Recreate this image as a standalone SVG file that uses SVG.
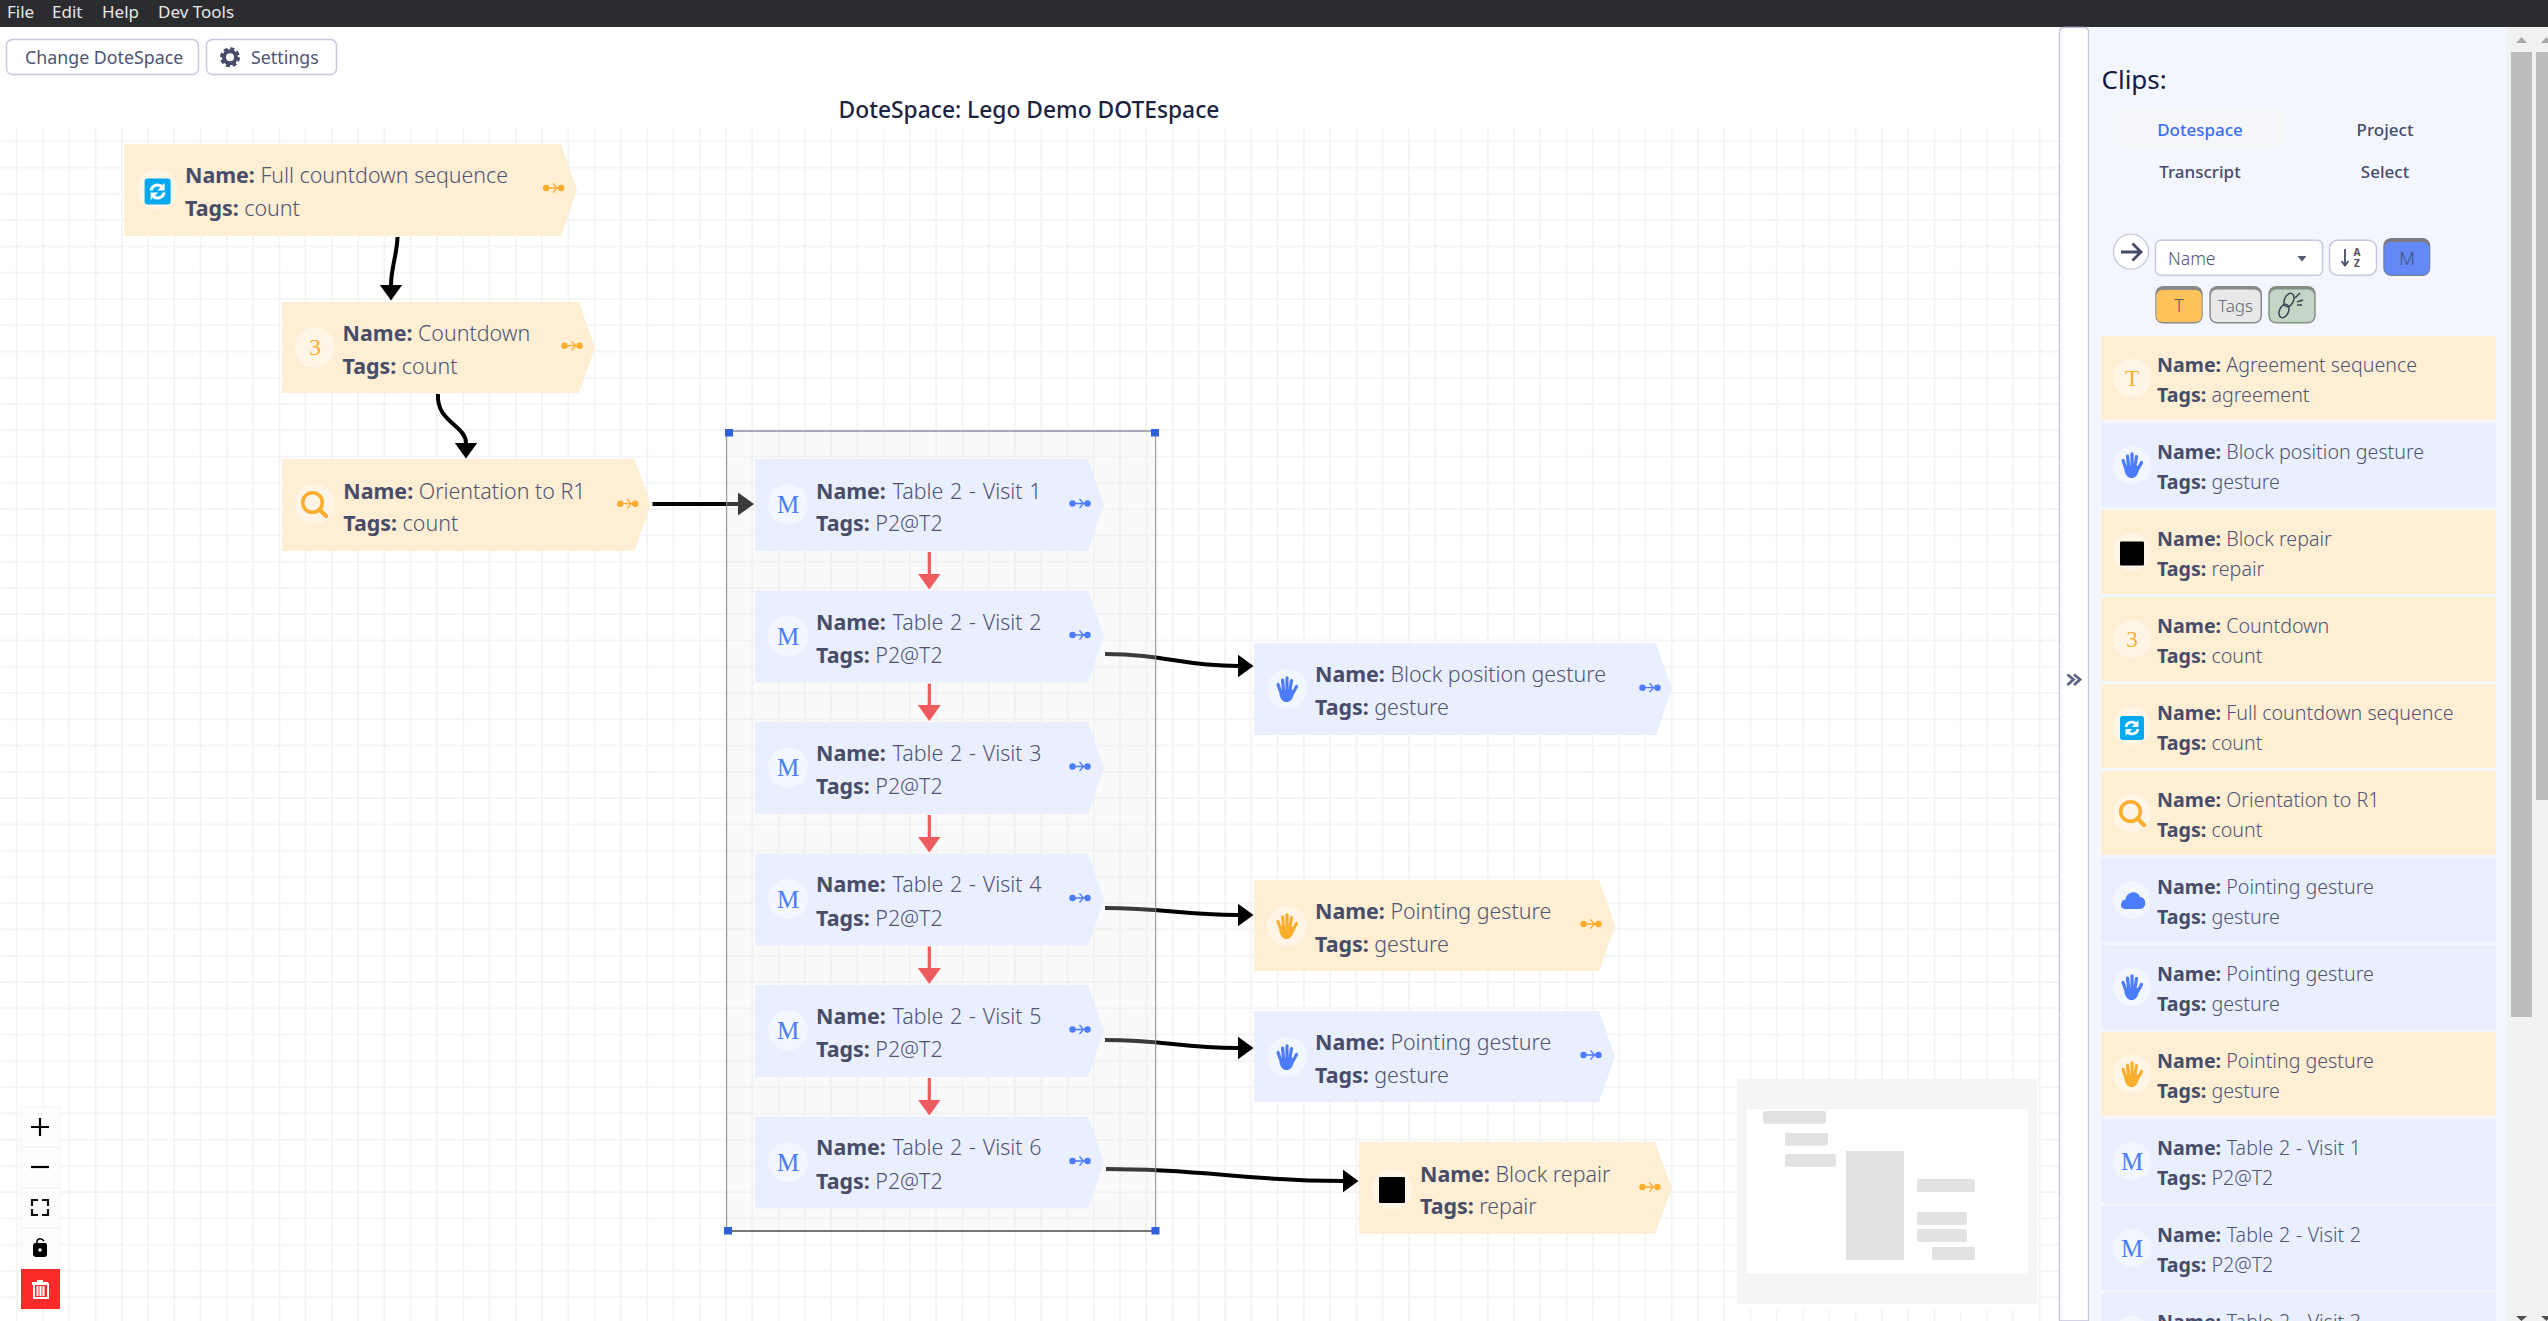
<svg xmlns="http://www.w3.org/2000/svg" width="2548" height="1321" viewBox="0 0 2548 1321">
<style>
text{font-family:"Noto Sans","Open Sans","Liberation Sans",sans-serif}
.l{font-size:21.4px;fill:#4f5472;font-weight:300}
.s{font-size:19.65px;fill:#4f5472;font-weight:300}
.t{word-spacing:1.2px}
.u{word-spacing:.5px}
.b{font-weight:700;fill:#474c68;word-spacing:0}
.or{fill:#feeed4}
.bl{fill:#e9effe}
.c{fill:#fff;opacity:.42}
.m{font-family:"Liberation Serif",serif;fill:#4a7cfb;font-size:25px;text-anchor:middle}
.o{font-family:"Liberation Serif",serif;fill:#fbad2e;font-size:24px;text-anchor:middle}
.menu{font-size:17px;fill:#e6e6e6}
.btn{fill:#fff;stroke:#c8c8de;stroke-width:1.5}
.btxt{font-size:18px;fill:#4f5472}
.tab{font-size:17px;font-weight:500;fill:#474c68;text-anchor:middle}
.conn{fill:none;stroke:#000;stroke-width:4}
.red{fill:none;stroke:#f02c30;stroke-width:3.2}
.mm{fill:#e2e2e2}
.ctl{fill:#fdfdfd}
</style>
<defs>
<pattern id="grid" patternUnits="userSpaceOnUse" x="15.7" y="140.3" width="26.27" height="26.27">
<path d="M1 0V26.27M0 1H26.27" fill="none" stroke="#f3f3f3" stroke-width="1.7"/>
</pattern>
<marker id="ah" markerUnits="userSpaceOnUse" viewBox="0 0 16 24" markerWidth="16" markerHeight="24" refX="0.5" refY="12" orient="auto"><path d="M0 .5L16 12L0 23.5Z" fill="#000"/></marker>
<marker id="rh" markerUnits="userSpaceOnUse" viewBox="0 0 16 24" markerWidth="16" markerHeight="24" refX="0.5" refY="12" orient="auto"><path d="M0 .5L16 12L0 23.5Z" fill="#f02c30"/></marker>
<g id="flow"><circle cx="-7.5" cy="0" r="3.2" fill="currentColor"/><circle cx="7.5" cy="0" r="3.2" fill="currentColor"/><path d="M-7 0H7M-.5-4.5L3.5 0L-.5 4.5" fill="none" stroke="currentColor" stroke-width="1.3"/></g>
<g id="hand"><path d="M-7.5 1L7 1L6.5 6C5.5 10.5 3 13 -.5 13C-4 13 -6 10.500 -7.500 6Z" fill="currentColor"/><path d="M-9 -4.500L-6.500 2.500M-4.500 -9L-3.500 1M0 -11.200V1M4.500 -8.500L3 1M9.500 -2.500L6 4" fill="none" stroke="currentColor" stroke-width="3.200" stroke-linecap="round"/></g>
<g id="sync"><rect x="-13" y="-13" width="26" height="26" rx="3" fill="#03a9ee"/><path d="M-6.500 -1A6.500 6.500 0 0 1 5 -4M6.500 1A6.500 6.500 0 0 1 -5 4" fill="none" stroke="#fff" stroke-width="3"/><path d="M7 -8.500V-1H-.5ZM-7 8.500V1H.5Z" fill="#fff"/></g>
<g id="search"><circle cx="-1.500" cy="-1.500" r="9.800" fill="none" stroke="#fbad2e" stroke-width="3.600"/><path d="M5.500 5.500L12 12" stroke="#fbad2e" stroke-width="4.200" stroke-linecap="round"/></g>
</defs>
<rect width="2548" height="1321" fill="#fff"/>
<rect x="0" y="129" width="2059" height="1192" fill="url(#grid)"/>
<rect x="0" y="0" width="2548" height="27" fill="#2b2c30"/>
<text class="menu" x="7" y="17.500">File</text>
<text class="menu" x="52" y="17.500">Edit</text>
<text class="menu" x="102" y="17.500">Help</text>
<text class="menu" x="158" y="17.500">Dev Tools</text>
<g id="btn-change"><rect class="btn" x="6.500" y="39.500" width="192" height="35" rx="6"/><text class="btxt" x="25" y="63.500" style="font-size:17.800px">Change DoteSpace</text></g>
<g id="btn-settings"><rect class="btn" x="206.500" y="39.500" width="130" height="35" rx="6"/>
<circle cx="230" cy="57.300" r="6" fill="none" stroke="#474c68" stroke-width="4"/><circle cx="230" cy="57.300" r="8.500" fill="none" stroke="#474c68" stroke-width="3" stroke-dasharray="4 2.680"/>
<text class="btxt" x="251" y="63.500" style="font-size:17.800px">Settings</text></g>
<text id="title" x="1029" y="118" font-size="22.800" font-weight="500" fill="#1c2340" text-anchor="middle">DoteSpace: Lego Demo DOTEspace</text>

<g id="connectors">
<path class="conn" marker-end="url(#ah)" d="M397.500 237C397 255 391 268 391 285"/>
<path class="conn" marker-end="url(#ah)" d="M438 394C436 422 466 425 466 443"/>
<path class="conn" marker-end="url(#ah)" d="M652.500 504H738.500"/>
<path class="conn" marker-end="url(#ah)" d="M1105 654C1165 654 1180 666 1238 666"/>
<path class="conn" marker-end="url(#ah)" d="M1105 908C1165 908 1180 915 1238 915"/>
<path class="conn" marker-end="url(#ah)" d="M1105 1040C1165 1040 1180 1048 1238 1048"/>
<path class="conn" marker-end="url(#ah)" d="M1106 1169C1210 1169 1240 1181 1343 1181"/>
<path class="red" marker-end="url(#rh)" d="M929.300 552V574"/>
<path class="red" marker-end="url(#rh)" d="M929.300 683.600V705.600"/>
<path class="red" marker-end="url(#rh)" d="M929.300 815V837"/>
<path class="red" marker-end="url(#rh)" d="M929.300 946.500V968.500"/>
<path class="red" marker-end="url(#rh)" d="M929.300 1078V1100"/>
</g>

<g id="selection">
<rect x="726.700" y="431" width="429" height="800" fill="#ebebeb" fill-opacity=".247"/>
<path d="M726.700 431V1231M1155.700 431V1231" stroke="#8a8a8a" stroke-width="1"/>
<path d="M729 431H1155" stroke="#a8a9b8" stroke-width="1.800"/>
<path d="M729 1231H1155" stroke="#757575" stroke-width="1.800"/>
<g fill="#2e62d9"><rect x="725" y="429" width="8" height="7.500"/><rect x="1151" y="429" width="8" height="7.500"/><rect x="724" y="1227" width="8" height="7.500"/><rect x="1151.500" y="1227" width="8" height="7.500"/></g>
</g>

<g id="node-full"><path class="or" d="M124 144H561L577 190L561 236H124Z"/><circle class="c" cx="157.600" cy="189.500" r="20"/><use href="#sync" x="157.600" y="191.500"/><text class="l" x="185" y="183"><tspan class="b">Name:</tspan> Full countdown sequence</text><text class="l" x="185" y="215.500"><tspan class="b">Tags:</tspan> count</text><use href="#flow" x="553.600" y="188" color="#fbad2e"/></g>
<g id="node-countdown"><path class="or" d="M282 302H579L595 348L579 393H282Z"/><circle class="c" cx="315" cy="347.500" r="20"/><text class="o" x="315" y="355">3</text><text class="l" x="342.600" y="341"><tspan class="b">Name:</tspan> Countdown</text><text class="l" x="342.600" y="373.500"><tspan class="b">Tags:</tspan> count</text><use href="#flow" x="572" y="345.700" color="#fbad2e"/></g>
<g id="node-orient"><path class="or" d="M282 459H634.700L650.700 505L634.700 551H282Z"/><circle class="c" cx="315" cy="504" r="20"/><use href="#search" x="314" y="504"/><text class="l" x="343.300" y="498.500"><tspan class="b">Name:</tspan> Orientation to R1</text><text class="l" x="343.300" y="531"><tspan class="b">Tags:</tspan> count</text><use href="#flow" x="627.700" y="503.700" color="#fbad2e"/></g>

<g id="node-v1"><path class="bl" d="M755 459H1088L1104 505L1088 551H755Z"/><circle class="c" cx="788" cy="504.500" r="20"/><text class="m" x="788" y="513">M</text><text class="l t" x="816" y="498.500"><tspan class="b">Name:</tspan> Table 2 - Visit 1</text><text class="l" x="816" y="531"><tspan class="b">Tags:</tspan> P2@T2</text><use href="#flow" x="1080" y="503.500" color="#4c7bfb"/></g>
<g id="node-v2"><path class="bl" d="M755 590.600H1088L1104 636.600L1088 682.600H755Z"/><circle class="c" cx="788" cy="636" r="20"/><text class="m" x="788" y="644.600">M</text><text class="l t" x="816" y="630"><tspan class="b">Name:</tspan> Table 2 - Visit 2</text><text class="l" x="816" y="662.600"><tspan class="b">Tags:</tspan> P2@T2</text><use href="#flow" x="1080" y="635" color="#4c7bfb"/></g>
<g id="node-v3"><path class="bl" d="M755 722H1088L1104 768L1088 814H755Z"/><circle class="c" cx="788" cy="767.500" r="20"/><text class="m" x="788" y="776">M</text><text class="l t" x="816" y="760.500"><tspan class="b">Name:</tspan> Table 2 - Visit 3</text><text class="l" x="816" y="794"><tspan class="b">Tags:</tspan> P2@T2</text><use href="#flow" x="1080" y="766.500" color="#4c7bfb"/></g>
<g id="node-v4"><path class="bl" d="M755 853.500H1088L1104 899.500L1088 945.500H755Z"/><circle class="c" cx="788" cy="899" r="20"/><text class="m" x="788" y="907.500">M</text><text class="l t" x="816" y="892"><tspan class="b">Name:</tspan> Table 2 - Visit 4</text><text class="l" x="816" y="925.500"><tspan class="b">Tags:</tspan> P2@T2</text><use href="#flow" x="1080" y="898" color="#4c7bfb"/></g>
<g id="node-v5"><path class="bl" d="M755 985H1088L1104 1031L1088 1077H755Z"/><circle class="c" cx="788" cy="1030.500" r="20"/><text class="m" x="788" y="1039">M</text><text class="l t" x="816" y="1023.500"><tspan class="b">Name:</tspan> Table 2 - Visit 5</text><text class="l" x="816" y="1057"><tspan class="b">Tags:</tspan> P2@T2</text><use href="#flow" x="1080" y="1029.500" color="#4c7bfb"/></g>
<g id="node-v6"><path class="bl" d="M755 1116.500H1088L1104 1162.500L1088 1208.500H755Z"/><circle class="c" cx="788" cy="1162" r="20"/><text class="m" x="788" y="1170.500">M</text><text class="l t" x="816" y="1155"><tspan class="b">Name:</tspan> Table 2 - Visit 6</text><text class="l" x="816" y="1188.500"><tspan class="b">Tags:</tspan> P2@T2</text><use href="#flow" x="1080" y="1161" color="#4c7bfb"/></g>

<g id="node-block-pos"><path class="bl" d="M1254 643H1656L1672 689L1656 735H1254Z"/><circle class="c" cx="1287" cy="689" r="20"/><use href="#hand" x="1287" y="689" color="#4a7cfb"/><text class="l" x="1315" y="681.500"><tspan class="b">Name:</tspan> Block position gesture</text><text class="l" x="1315" y="715"><tspan class="b">Tags:</tspan> gesture</text><use href="#flow" x="1650" y="687.700" color="#4c7bfb"/></g>
<g id="node-point-1"><path class="or" d="M1254 880H1599L1615 926L1599 971H1254Z"/><circle class="c" cx="1287" cy="926" r="20"/><use href="#hand" x="1287" y="926" color="#fbad2e"/><text class="l" x="1315" y="918.500"><tspan class="b">Name:</tspan> Pointing gesture</text><text class="l" x="1315" y="952"><tspan class="b">Tags:</tspan> gesture</text><use href="#flow" x="1591" y="924" color="#fbad2e"/></g>
<g id="node-point-2"><path class="bl" d="M1254 1011H1599L1615 1057L1599 1102H1254Z"/><circle class="c" cx="1287" cy="1057" r="20"/><use href="#hand" x="1287" y="1057" color="#4a7cfb"/><text class="l" x="1315" y="1049.500"><tspan class="b">Name:</tspan> Pointing gesture</text><text class="l" x="1315" y="1083"><tspan class="b">Tags:</tspan> gesture</text><use href="#flow" x="1591" y="1055" color="#4c7bfb"/></g>
<g id="node-repair"><path class="or" d="M1359 1142H1655L1672 1188L1655 1234H1359Z"/><circle class="c" cx="1392" cy="1189.500" r="20"/><rect x="1379" y="1177" width="26" height="26" fill="#000" rx="1"/><text class="l" x="1420" y="1181.500"><tspan class="b">Name:</tspan> Block repair</text><text class="l" x="1420" y="1214"><tspan class="b">Tags:</tspan> repair</text><use href="#flow" x="1650" y="1187" color="#fbad2e"/></g>

<g id="controls">
<rect class="ctl" x="21" y="1107" width="39" height="162" stroke="#f3f3f3" stroke-width="1"/>
<path d="M21 1147.300H60M21 1187.700H60M21 1228.300H60" stroke="#eeeeee" stroke-width="1"/>
<path d="M31 1127H49M40 1118V1136" stroke="#000" stroke-width="2.200"/>
<path d="M31 1167H49" stroke="#000" stroke-width="2.200"/>
<path d="M38 1200H32V1206M42 1200H48V1206M38 1215H32V1209M42 1215H48V1209" fill="none" stroke="#111" stroke-width="2.200"/>
<path d="M34.500 1243H46L47 1245V1255L45.500 1257H35L33 1255V1245Z" fill="#000"/><path d="M37 1243V1241C38 1238 42 1238 44 1241" fill="none" stroke="#000" stroke-width="1.500"/><circle cx="40" cy="1250" r="1.800" fill="#fff"/>
<rect x="21" y="1269" width="39" height="40" fill="#f92a2a"/>
<path d="M32 1284H48V1298H34V1284" fill="none" stroke="#fff" stroke-width="2"/><path d="M32 1283H48M37 1281H43M37.500 1286V1296M40.500 1286V1296M43.500 1286V1296" stroke="#fff" stroke-width="2" fill="none"/>
</g>

<g id="minimap">
<rect x="1737" y="1304" width="300" height="6" fill="#fff"/>
<rect x="1737" y="1079" width="300" height="225" fill="#f5f5f5"/>
<rect x="1746.300" y="1109.300" width="281.700" height="164" fill="#fff"/>
<rect class="mm" x="1763" y="1111" width="63" height="12.700" rx="2"/>
<rect class="mm" x="1785" y="1133" width="43" height="12.700" rx="2"/>
<rect class="mm" x="1785" y="1154" width="51" height="12.700" rx="2"/>
<rect class="mm" x="1846" y="1151" width="58" height="109"/>
<rect class="mm" x="1917" y="1179" width="58" height="13" rx="2"/>
<rect class="mm" x="1917" y="1212" width="50" height="13" rx="2"/>
<rect class="mm" x="1917" y="1229" width="50" height="13" rx="2"/>
<rect class="mm" x="1932" y="1247" width="43" height="13" rx="2"/>
</g>

<g id="panel">
<path d="M2059.500 1321V32Q2059.500 27.500 2064 27.500H2084Q2088.500 27.500 2088.500 32V1321Z" fill="#fff" stroke="#c4c4da" stroke-width="1.300"/>
<rect x="2089" y="27" width="419" height="1294" fill="#f3f6ff"/>
<path d="M2508 27V1321" stroke="#e6e9f5" stroke-width="1"/>
<rect x="2508.500" y="27" width="39.500" height="1294" fill="#f1f1f1"/>
<rect x="2511" y="52" width="21" height="965" fill="#bcbcbc"/>
<rect x="2536" y="52" width="12" height="748" fill="#bcbcbc"/>
<path d="M2516 43L2521.500 37L2527 43ZM2541 43L2546.500 37L2548 39V43Z" fill="#a8a8a8"/>
<path d="M2516 1316L2521.500 1321L2527 1316ZM2541 1316L2546.500 1321L2548 1319V1316Z" fill="#505050"/>
<path d="M2068 675L2074 680L2068 685.500M2074.500 675L2080.500 680L2074.500 685.500" fill="none" stroke="#5d6284" stroke-width="2.800" transform="translate(-.5 -.5)"/>
<text x="2101.500" y="89" font-size="26" fill="#121a3f">Clips:</text>
<rect x="2113" y="108" width="172" height="41" rx="5" fill="#f5f6fa"/>
<text class="tab" x="2200" y="135.500" style="fill:#3b6dfb">Dotespace</text>
<text class="tab" x="2385" y="135.500">Project</text>
<text class="tab" x="2200" y="177.500">Transcript</text>
<text class="tab" x="2385" y="177.500">Select</text>
<circle cx="2131" cy="251.700" r="17.500" fill="#fff" stroke="#c8c8de" stroke-width="1.300"/>
<path d="M2121 252H2140M2132.500 243.500L2141 252L2132.500 260.500" fill="none" stroke="#454a68" stroke-width="2.800"/>
<rect class="btn" x="2155.500" y="240.300" width="167" height="35" rx="5"/>
<text x="2168" y="265" font-size="17.500" font-weight="300" fill="#4f5472">Name</text>
<path d="M2297.500 256H2306.500L2302 261.500Z" fill="#555a78"/>
<rect class="btn" x="2329.500" y="240.300" width="47" height="35" rx="8"/>
<path d="M2345 249V265M2341.500 261L2345 265.500L2348.500 261" fill="none" stroke="#474c68" stroke-width="1.800"/>
<text x="2357" y="256" font-size="10" font-weight="700" fill="#474c68" text-anchor="middle">A</text>
<text x="2357" y="267" font-size="10" font-weight="700" fill="#474c68" text-anchor="middle">Z</text>
<rect x="2383.300" y="238" width="47" height="38" rx="8" fill="#7a7a80"/>
<rect x="2384.300" y="242" width="45" height="33" rx="6" fill="#6289f5"/>
<text x="2407" y="265" font-size="18" font-weight="300" fill="#46507a" text-anchor="middle">M</text>
<rect x="2155.300" y="286" width="47.400" height="37.500" rx="8" fill="#8a8a88"/>
<rect x="2156.300" y="290" width="45.400" height="32" rx="6" fill="#fdc35a"/>
<text x="2179" y="312" font-size="18" font-weight="300" fill="#5c5c68" text-anchor="middle">T</text>
<rect x="2209.300" y="286" width="52.700" height="37.500" rx="8" fill="#8a8a8a"/>
<rect x="2210.800" y="289.500" width="49.700" height="32.500" rx="6" fill="#e8e8e8"/>
<text x="2235.500" y="312" font-size="17" font-weight="300" fill="#5c6078" text-anchor="middle">Tags</text>
<rect x="2268.300" y="286" width="47.400" height="37.500" rx="8" fill="#858d85"/>
<rect x="2269.800" y="289.500" width="44.400" height="32.500" rx="6" fill="#c5d5c5"/>
<g fill="none" stroke="#3c4154" stroke-width="1.500"><ellipse cx="2289" cy="300" rx="4.500" ry="7" transform="rotate(25 2289 300)"/><ellipse cx="2284" cy="311" rx="4.500" ry="7" transform="rotate(25 2284 311)"/><path d="M2295 298L2300 293M2297 302L2303 300M2297 305H2302"/></g>

<g id="clip-1"><rect class="or" x="2101" y="336" width="395" height="84"/><circle class="c" cx="2132" cy="378" r="19"/><text class="o" x="2132" y="386" style="font-size:23px">T</text><text class="s" x="2157" y="372"><tspan class="b">Name:</tspan> Agreement sequence</text><text class="s" x="2157" y="402"><tspan class="b">Tags:</tspan> agreement</text></g>
<g id="clip-2"><rect class="bl" x="2101" y="423" width="395" height="84"/><circle class="c" cx="2132" cy="465" r="19"/><use href="#hand" x="2132" y="465" color="#4a7cfb"/><text class="s" x="2157" y="459"><tspan class="b">Name:</tspan> Block position gesture</text><text class="s" x="2157" y="489"><tspan class="b">Tags:</tspan> gesture</text></g>
<g id="clip-3"><rect class="or" x="2101" y="510" width="395" height="84"/><circle class="c" cx="2132" cy="552" r="19"/><rect x="2120" y="541.500" width="24" height="24" rx="1" fill="#000"/><text class="s" x="2157" y="546"><tspan class="b">Name:</tspan> Block repair</text><text class="s" x="2157" y="576"><tspan class="b">Tags:</tspan> repair</text></g>
<g id="clip-4"><rect class="or" x="2101" y="597" width="395" height="84"/><circle class="c" cx="2132" cy="639" r="19"/><text class="o" x="2132" y="647" style="font-size:23px">3</text><text class="s" x="2157" y="633"><tspan class="b">Name:</tspan> Countdown</text><text class="s" x="2157" y="663"><tspan class="b">Tags:</tspan> count</text></g>
<g id="clip-5"><rect class="or" x="2101" y="684" width="395" height="84"/><circle class="c" cx="2132" cy="726" r="19"/><use href="#sync" transform="translate(2132 728) scale(.92)"/><text class="s" x="2157" y="720"><tspan class="b">Name:</tspan> Full countdown sequence</text><text class="s" x="2157" y="750"><tspan class="b">Tags:</tspan> count</text></g>
<g id="clip-6"><rect class="or" x="2101" y="771" width="395" height="84"/><circle class="c" cx="2132" cy="813" r="19"/><use href="#search" x="2132" y="813"/><text class="s" x="2157" y="807"><tspan class="b">Name:</tspan> Orientation to R1</text><text class="s" x="2157" y="837"><tspan class="b">Tags:</tspan> count</text></g>
<g id="clip-7"><rect class="bl" x="2101" y="858" width="395" height="84"/><circle class="c" cx="2132" cy="900" r="19"/><path d="M2125 909C2119 909 2120 900 2125.500 899.500C2126 892 2137 889 2140 897C2147 897 2147 909 2140 909Z" fill="#4a7cfb"/><text class="s" x="2157" y="894"><tspan class="b">Name:</tspan> Pointing gesture</text><text class="s" x="2157" y="924"><tspan class="b">Tags:</tspan> gesture</text></g>
<g id="clip-8"><rect class="bl" x="2101" y="945" width="395" height="84"/><circle class="c" cx="2132" cy="987" r="19"/><use href="#hand" x="2132" y="987" color="#4a7cfb"/><text class="s" x="2157" y="981"><tspan class="b">Name:</tspan> Pointing gesture</text><text class="s" x="2157" y="1011"><tspan class="b">Tags:</tspan> gesture</text></g>
<g id="clip-9"><rect class="or" x="2101" y="1032" width="395" height="84"/><circle class="c" cx="2132" cy="1074" r="19"/><use href="#hand" x="2132" y="1074" color="#fbad2e"/><text class="s" x="2157" y="1068"><tspan class="b">Name:</tspan> Pointing gesture</text><text class="s" x="2157" y="1098"><tspan class="b">Tags:</tspan> gesture</text></g>
<g id="clip-10"><rect class="bl" x="2101" y="1119" width="395" height="84"/><circle class="c" cx="2132" cy="1161" r="19"/><text class="m" x="2132" y="1169.500">M</text><text class="s u" x="2157" y="1155"><tspan class="b">Name:</tspan> Table 2 - Visit 1</text><text class="s" x="2157" y="1185"><tspan class="b">Tags:</tspan> P2@T2</text></g>
<g id="clip-11"><rect class="bl" x="2101" y="1206" width="395" height="84"/><circle class="c" cx="2132" cy="1248" r="19"/><text class="m" x="2132" y="1256.500">M</text><text class="s u" x="2157" y="1242"><tspan class="b">Name:</tspan> Table 2 - Visit 2</text><text class="s" x="2157" y="1272"><tspan class="b">Tags:</tspan> P2@T2</text></g>
<g id="clip-12"><rect class="bl" x="2101" y="1293" width="395" height="84"/><circle class="c" cx="2132" cy="1335" r="19"/><text class="s u" x="2157" y="1329"><tspan class="b">Name:</tspan> Table 2 - Visit 3</text></g>
</g>
</svg>
